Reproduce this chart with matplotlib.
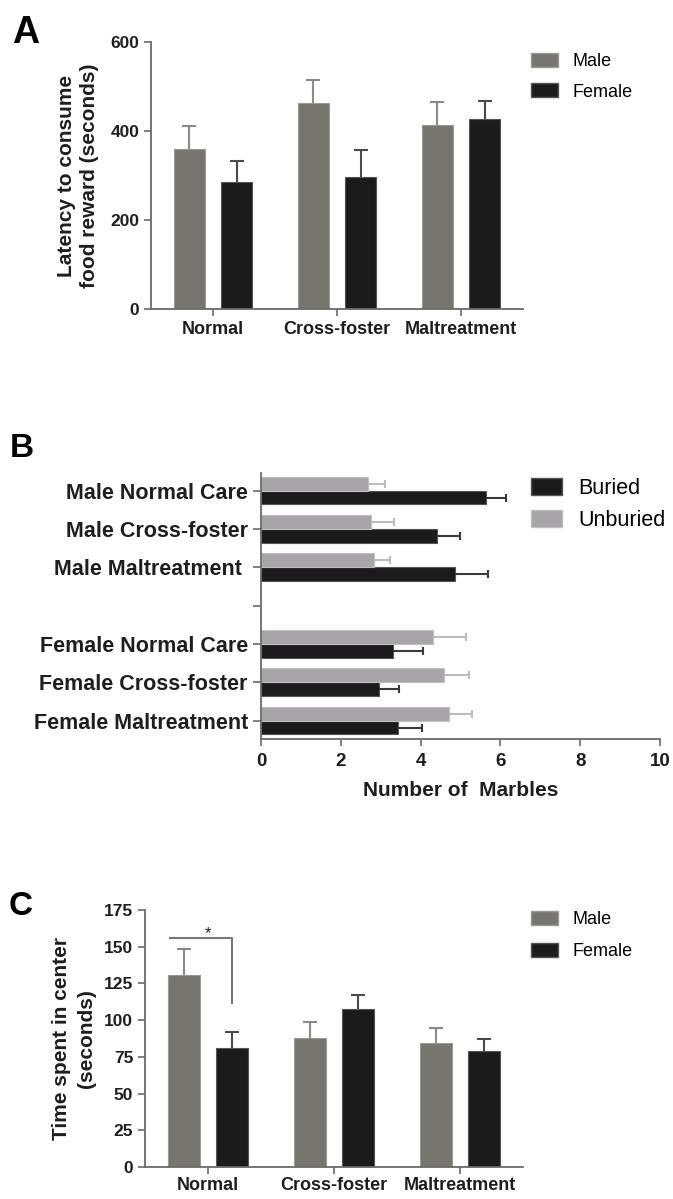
import matplotlib
matplotlib.use('Agg')
from matplotlib import pyplot as plt
from matplotlib.patches import Patch
import numpy as np

plt.rcParams['font.family'] = ['Liberation Sans', 'DejaVu Sans']

# 그룹 / 데이터
groups = ['Normal', 'Cross-foster', 'Maltreatment']

latency_male = [360, 463, 413]
latency_male_sem = [52, 52, 52]
latency_female = [286, 297, 428]
latency_female_sem = [47, 60, 40]

marble_labels = ['Male Normal Care', 'Male Cross-foster', 'Male Maltreatment ', '',
                 'Female Normal Care', 'Female Cross-foster', 'Female Maltreatment']
buried = [5.63, 4.41, 4.87, np.nan, 3.32, 2.95, 3.43]
buried_sem = [0.50, 0.58, 0.83, 0, 0.75, 0.52, 0.61]
unburied = [2.69, 2.76, 2.82, np.nan, 4.31, 4.59, 4.72]
unburied_sem = [0.42, 0.57, 0.41, 0, 0.83, 0.63, 0.56]

center_male = [130.7, 87.9, 84.5]
center_male_sem = [17.5, 10.7, 10.3]
center_female = [81.1, 107.7, 79.3]
center_female_sem = [10.5, 9.1, 7.7]

MALE_C = '#76756f'
FEMALE_C = '#1b1b1b'
UNBUR_C = '#a8a5a8'
SPINE_C = '#6a6a6a'
TEXT_C = '#1e1e1e'

W, H = 673, 1199
fig = plt.figure(figsize=(W / 100, H / 100), dpi=100)


def px_axes(left, top, right, bottom):
    return fig.add_axes([left / W, 1 - bottom / H, (right - left) / W, (bottom - top) / H])


def style_axes(ax):
    for s in ['top', 'right']:
        ax.spines[s].set_visible(False)
    for s in ['left', 'bottom']:
        ax.spines[s].set_color(SPINE_C)
        ax.spines[s].set_linewidth(1.3)
    ax.tick_params(direction='out', length=5, width=1.2, color=SPINE_C)


def hide_low_caps(bars):
    # 한쪽 방향 에러바만 남기기 (아래쪽 캡 숨김)
    caps = bars.errorbar.lines[1]
    if caps:
        caps[0].set_visible(False)


def grouped_bars(ax, male, male_sem, female, female_sem, ylim, yticks):
    x = np.arange(len(groups))
    off, bw = 0.19, 0.25
    b1 = ax.bar(x - off, male, bw, color=MALE_C, edgecolor='#9a9995', linewidth=0.8,
                yerr=[np.zeros(len(male)), male_sem], capsize=5,
                error_kw=dict(ecolor='#8a8a88', elinewidth=1.5, capthick=1.5))
    b2 = ax.bar(x + off, female, bw, color=FEMALE_C, edgecolor='#555555', linewidth=0.8,
                yerr=[np.zeros(len(female)), female_sem], capsize=5,
                error_kw=dict(ecolor='#4a4a4a', elinewidth=1.5, capthick=1.5))
    hide_low_caps(b1)
    hide_low_caps(b2)
    ax.set_xlim(-0.5, 2.5)
    ax.set_ylim(*ylim)
    ax.set_yticks(yticks)
    ax.set_xticks(x)
    ax.set_xticklabels(groups, fontsize=13, fontweight='bold', color=TEXT_C)
    for lab in ax.get_yticklabels():
        lab.set_fontsize(12.5)
        lab.set_fontweight('bold')
        lab.set_color(TEXT_C)
    style_axes(ax)
    ax.tick_params(axis='x', pad=4)


def sex_legend(y_top, spacing):
    handles = [Patch(facecolor=MALE_C, edgecolor='#9a9995'),
               Patch(facecolor=FEMALE_C, edgecolor='#555555')]
    fig.legend(handles, ['Male', 'Female'], loc='upper left',
               bbox_to_anchor=(531 / W, 1 - y_top / H), frameon=False,
               fontsize=13, handlelength=1.5, handleheight=0.85,
               handletextpad=0.8, labelspacing=spacing, borderpad=0, borderaxespad=0)


# A: 음식 보상 섭취 지연 시간
axA = px_axes(151, 42, 523, 309)
grouped_bars(axA, latency_male, latency_male_sem, latency_female, latency_female_sem,
             (0, 600), [0, 200, 400, 600])
axA.set_ylabel('Latency to consume\nfood reward (seconds)', fontsize=15,
               fontweight='bold', color=TEXT_C, labelpad=8, linespacing=1.3)
sex_legend(53, 0.7)
fig.text(12 / W, 1 - 43 / H, 'A', fontsize=27, fontweight='bold', va='baseline')

# B: 구슬 묻기
axB = px_axes(261, 473, 660, 739)
y = np.arange(len(marble_labels))
bh = 0.36
bb = axB.barh(y + bh / 2, buried, bh, color=FEMALE_C, edgecolor='#555555', linewidth=0.8,
              xerr=[np.zeros(len(buried)), buried_sem], capsize=3,
              error_kw=dict(ecolor='#3a3a3a', elinewidth=1.5, capthick=1.5))
bu = axB.barh(y - bh / 2, unburied, bh, color=UNBUR_C, edgecolor='#c0bec0', linewidth=0.8,
              xerr=[np.zeros(len(unburied)), unburied_sem], capsize=3,
              error_kw=dict(ecolor='#bdbbbd', elinewidth=1.5, capthick=1.5))
hide_low_caps(bb)
hide_low_caps(bu)
axB.set_ylim(6.48, -0.46)
axB.set_xlim(0, 10)
axB.set_yticks(y)
axB.set_yticklabels(marble_labels, fontsize=15.5, fontweight='bold', color=TEXT_C)
axB.set_xticks(np.arange(0, 11, 2))
for lab in axB.get_xticklabels():
    lab.set_fontsize(13.5)
    lab.set_fontweight('bold')
    lab.set_color(TEXT_C)
style_axes(axB)
axB.tick_params(axis='y', length=6)
axB.tick_params(axis='x', pad=5)
axB.set_xlabel('Number of  Marbles', fontsize=15, fontweight='bold', color=TEXT_C,
               labelpad=8)
fig.legend([Patch(facecolor=FEMALE_C, edgecolor='#555555'),
            Patch(facecolor=UNBUR_C, edgecolor='#c0bec0')],
           ['Buried', 'Unburied'], loc='upper left',
           bbox_to_anchor=(531 / W, 1 - 478 / H), frameon=False,
           fontsize=15.5, handlelength=1.45, handleheight=0.8,
           handletextpad=0.75, labelspacing=0.5, borderpad=0, borderaxespad=0)
fig.text(10 / W, 1 - 457 / H, 'B', fontsize=24, fontweight='bold', va='baseline')

# C: 중앙 체류 시간
axC = px_axes(145, 910, 523, 1167)
grouped_bars(axC, center_male, center_male_sem, center_female, center_female_sem,
             (0, 175), np.arange(0, 176, 25))
axC.tick_params(axis='x', pad=2)
axC.set_ylabel('Time spent in center\n(seconds)', fontsize=15, fontweight='bold',
               color=TEXT_C, labelpad=6, linespacing=1.35)
# 유의성 표시 (*)
axC.plot([-0.3, 0.19, 0.19], [155.7, 155.7, 111.8], color='#777777', lw=1.5)
axC.text(0.0, 154, '*', ha='center', va='bottom', fontsize=12, color=TEXT_C)
sex_legend(911, 0.78)
fig.text(9 / W, 1 - 915 / H, 'C', fontsize=24, fontweight='bold', va='baseline')

plt.savefig('out.png', dpi=100)
plt.close()
